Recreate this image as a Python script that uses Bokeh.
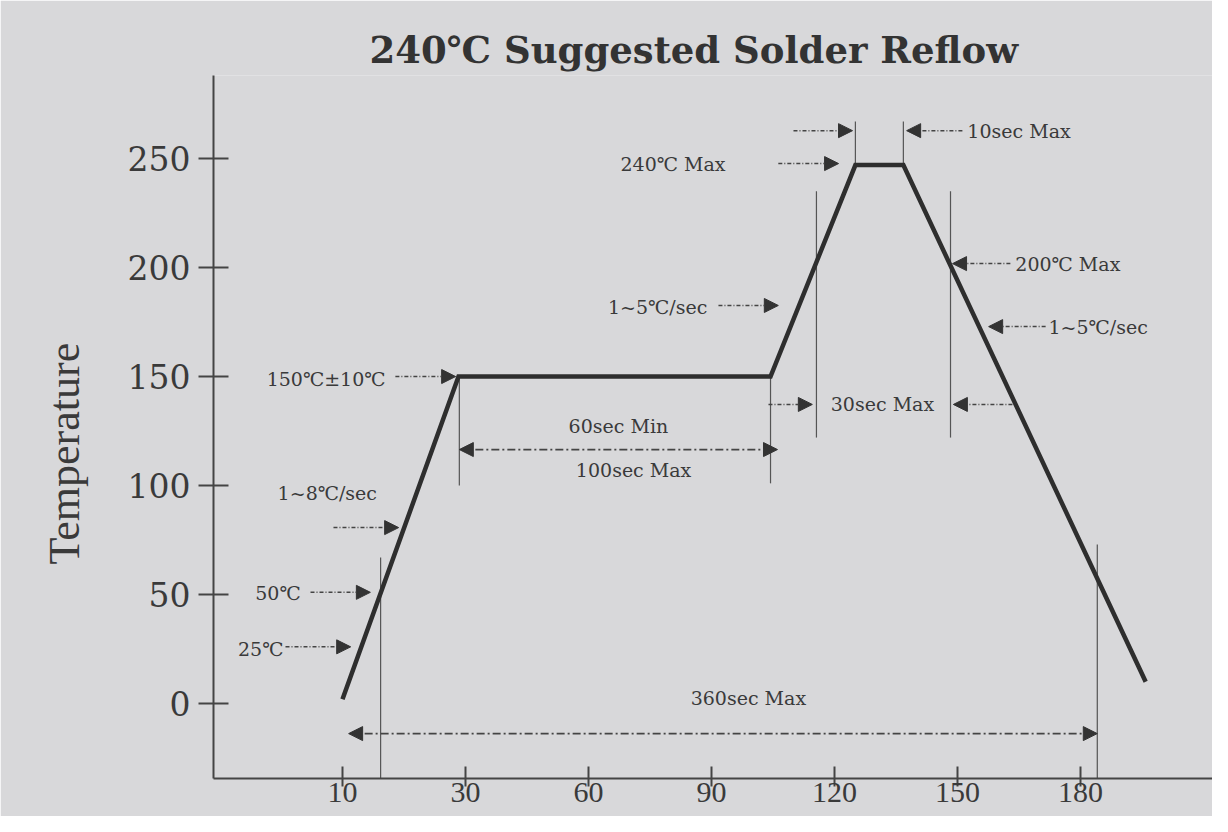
import math
from bokeh.plotting import figure
from bokeh.models import (ColumnDataSource, Arrow, NormalHead, FixedTicker, Title, Range1d)
from bokeh.core.properties import value
from bokeh.embed import file_html
from bokeh.resources import INLINE

# ---------------- data ----------------
title_text = "240\u2103 Suggested Solder Reflow"
y_label = "Temperature"

x_tick_pos = [0, 30, 60, 90, 120, 150, 180]
x_tick_labels = ["10", "30", "60", "90", "120", "150", "180"]
y_ticks = [0, 50, 100, 150, 200, 250]

# reflow profile (time on the drawn axis scale, temperature)
profile_time = [0, 28.3, 104.4, 125.1, 136.8, 195.9]
profile_temp = [2, 150, 150, 247, 247, 10]

# thin vertical guide lines
guide_x = [9.3, 28.5, 104.4, 115.6, 148.3, 125.1, 136.8, 184.1]
guide_y0 = [67, 150, 150, 235, 235, 247, 247, 73]
guide_y1 = [-40, 100, 101, 122, 122, 267, 267, -40]

# single-headed dash-dot arrows
arr_x0 = [12.9, -2.2, -7.8, -13.9, 91.7, 103.9, 163.4, 106.3, 110.0, 151.2, 162.9, 171.5]
arr_y0 = [150, 80.7, 51, 26, 182.6, 137.2, 137.2, 247.7, 262.8, 262.8, 201.8, 172.9]
arr_x1 = [27.6, 13.7, 6.8, 2.0, 106.3, 114.6, 149.0, 121.0, 124.4, 137.6, 148.8, 157.6]
arr_y1 = [150, 80.7, 51, 26, 182.6, 137.2, 137.2, 247.7, 262.8, 262.8, 201.8, 172.9]

# double-headed arrows
dbl_x0 = [28.5, 1.5]
dbl_y0 = [116.5, -13.8]
dbl_x1 = [106.1, 184.1]
dbl_y1 = [116.5, -13.8]

# annotation texts
ann_text = ["150\u2103\u00b110\u2103", "1~8\u2103/sec", "50\u2103", "25\u2103",
            "60sec Min", "100sec Max", "1~5\u2103/sec", "30sec Max",
            "240\u2103 Max", "10sec Max", "200\u2103 Max", "1~5\u2103/sec", "360sec Max"]
ann_x = [10.5, -3.7, -10.2, -14.4, 67.3, 71.0, 89.0, 131.7, 67.8, 152.4, 164.1, 172.2, 99.0]
ann_y = [149, 96.8, 50.9, 25.2, 127.5, 106.9, 181.7, 137.2, 247.7, 262.8, 201.8, 172.9, 2.3]
ann_align = ["right", "center", "right", "right", "center", "center", "right", "center",
             "left", "left", "left", "left", "center"]

# ---------------- styling ----------------
BG = "#d8d8da"
INK = "#2e2e2e"
TXT = "#3a3a3a"
SERIF = "Liberation Serif"
WIDE_SERIF = "DejaVu Serif"

p = figure(width=1212, height=816, output_backend="svg", toolbar_location=None,
           x_range=Range1d(-31.46, 212.2), y_range=Range1d(-34.4, 288.1),
           min_border_left=213, min_border_right=0, min_border_top=75, min_border_bottom=38)
p.background_fill_color = BG
p.border_fill_color = BG
p.outline_line_color = None
p.grid.visible = False

# axes
p.xaxis.ticker = FixedTicker(ticks=x_tick_pos)
p.xaxis.major_label_overrides = {t: l for t, l in zip(x_tick_pos, x_tick_labels)}
p.xaxis.minor_tick_line_color = None
p.xaxis.major_tick_in = 12
p.xaxis.major_tick_out = 8
p.xaxis.major_label_standoff = -4
p.xaxis.major_label_text_font = SERIF
p.xaxis.major_label_text_font_size = "30px"
p.xaxis.major_label_text_color = TXT
p.xaxis.axis_line_color = "#444444"
p.xaxis.axis_line_width = 2
p.xaxis.major_tick_line_color = "#444444"
p.xaxis.major_tick_line_width = 2

p.yaxis.ticker = FixedTicker(ticks=y_ticks)
p.yaxis.minor_tick_line_color = None
p.yaxis.major_tick_in = 15
p.yaxis.major_tick_out = 15
p.yaxis.major_label_standoff = 8
p.yaxis.major_label_text_font = WIDE_SERIF
p.yaxis.major_label_text_font_size = "33px"
p.yaxis.major_label_text_color = TXT
p.yaxis.axis_line_color = "#444444"
p.yaxis.axis_line_width = 2
p.yaxis.major_tick_line_color = "#444444"
p.yaxis.major_tick_line_width = 2

# guide lines
p.segment(x0=guide_x, y0=guide_y0, x1=guide_x, y1=guide_y1, line_color="#555555", line_width=1.2)

# profile
p.line(profile_time, profile_temp, line_color=INK, line_width=4.5, line_join="miter")

# arrows
src_a = ColumnDataSource(dict(x0=arr_x0, y0=arr_y0, x1=arr_x1, y1=arr_y1))
p.add_layout(Arrow(source=src_a, x_start="x0", y_start="y0", x_end="x1", y_end="y1",
                   line_color="#444444", line_width=1.5, line_dash="4 2 1 2",
                   end=NormalHead(size=14, fill_color="#333333", line_color="#333333")))
src_d = ColumnDataSource(dict(x0=dbl_x0, y0=dbl_y0, x1=dbl_x1, y1=dbl_y1))
p.add_layout(Arrow(source=src_d, x_start="x0", y_start="y0", x_end="x1", y_end="y1",
                   line_color="#444444", line_width=1.8, line_dash="8 3 2 3",
                   start=NormalHead(size=14, fill_color="#333333", line_color="#333333"),
                   end=NormalHead(size=14, fill_color="#333333", line_color="#333333")))

# annotation text
src_t = ColumnDataSource(dict(x=ann_x, y=ann_y, t=ann_text, a=ann_align))
p.text(x="x", y="y", text="t", source=src_t, text_align="a", text_baseline="middle",
       text_font=value(WIDE_SERIF), text_font_size="19px", text_color=TXT)

# title and y label
p.add_layout(Title(text=title_text, align="left", offset=156, standoff=8,
                   text_font=WIDE_SERIF, text_font_style="bold", text_font_size="37px",
                   text_color="#333333"), "above")
p.add_layout(Title(text=y_label, align="left", offset=214, standoff=72,
                   text_font=SERIF, text_font_style="normal", text_font_size="44px",
                   text_color=TXT), "left")

open("out.html", "w").write(file_html(p, INLINE))
